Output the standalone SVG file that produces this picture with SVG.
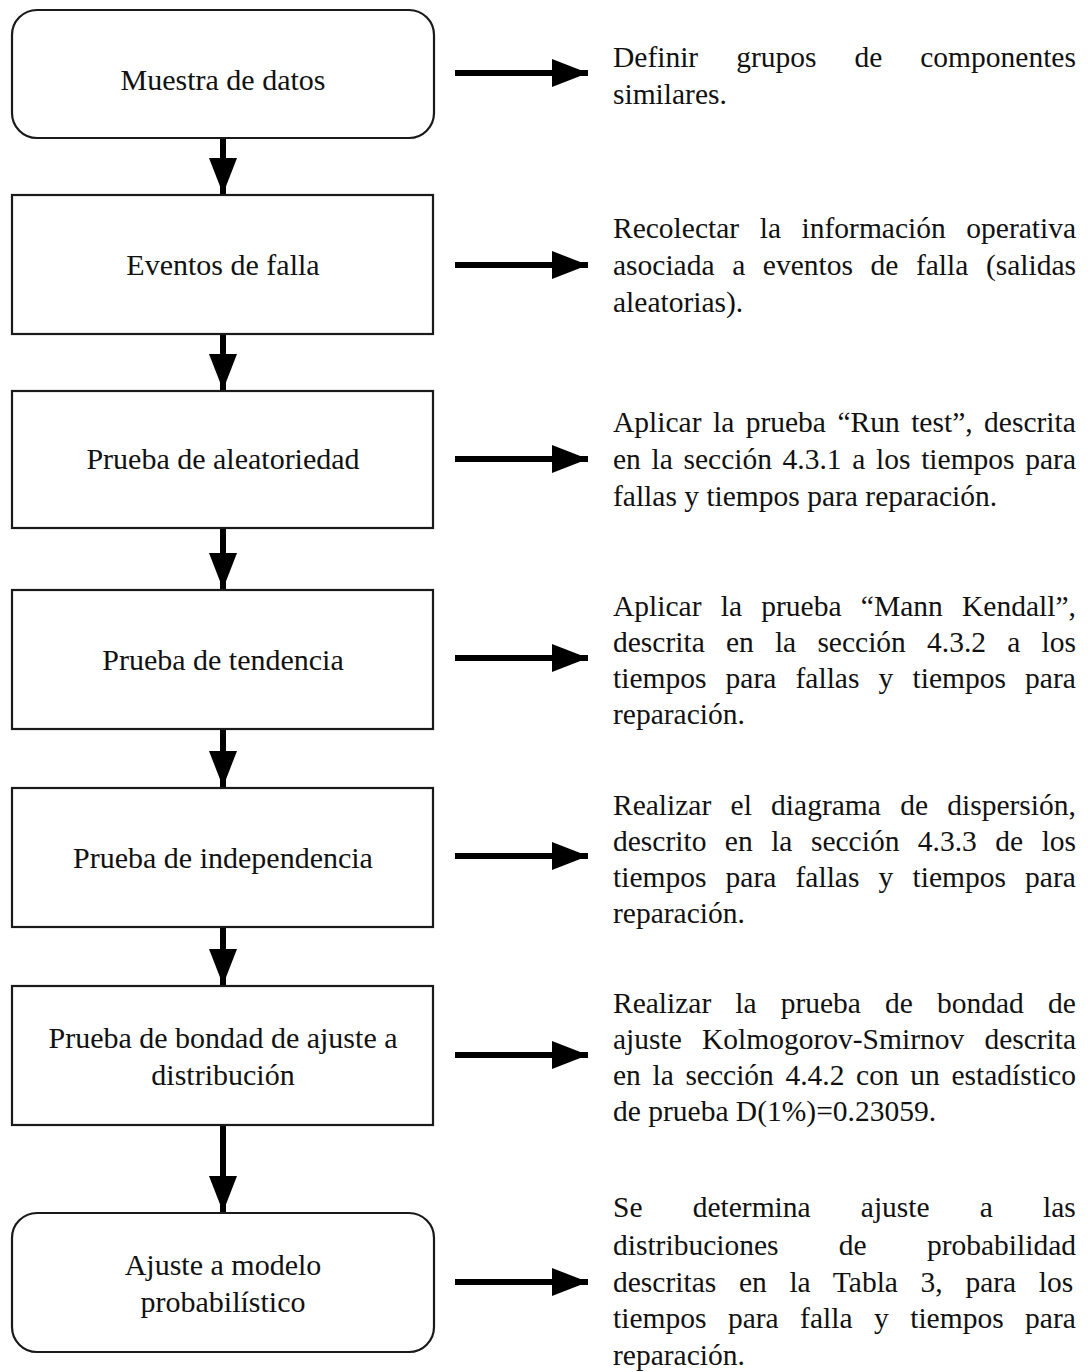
<svg xmlns="http://www.w3.org/2000/svg" width="1088" height="1372" viewBox="0 0 1088 1372">
<defs>
<style>
.box{fill:#fff;stroke:#1a1a1a;stroke-width:2.2}
.lbl{font-family:"Liberation Serif","Times New Roman",serif;font-size:30px;fill:#111;text-anchor:middle}
.txt{font-family:"Liberation Serif","Times New Roman",serif;font-size:29.5px;fill:#111}
.conn{stroke:#000;stroke-width:6;fill:none}
</style>
<marker id="ah" markerUnits="userSpaceOnUse" markerWidth="38" markerHeight="30" refX="36" refY="15" orient="auto">
<path d="M0,1 L36,15 L0,29 Z" fill="#000"/>
</marker>
</defs>
<rect width="1088" height="1372" fill="#fff"/>

<g id="connectors">
<line class="conn" x1="223" y1="139" x2="223" y2="194" marker-end="url(#ah)"/>
<line class="conn" x1="223" y1="335" x2="223" y2="390" marker-end="url(#ah)"/>
<line class="conn" x1="223" y1="529" x2="223" y2="589" marker-end="url(#ah)"/>
<line class="conn" x1="223" y1="730" x2="223" y2="787" marker-end="url(#ah)"/>
<line class="conn" x1="223" y1="928" x2="223" y2="985" marker-end="url(#ah)"/>
<line class="conn" x1="223" y1="1126" x2="223" y2="1212" marker-end="url(#ah)"/>
<line class="conn" x1="455" y1="73" x2="588" y2="73" marker-end="url(#ah)"/>
<line class="conn" x1="455" y1="265" x2="588" y2="265" marker-end="url(#ah)"/>
<line class="conn" x1="455" y1="459" x2="588" y2="459" marker-end="url(#ah)"/>
<line class="conn" x1="455" y1="658" x2="588" y2="658" marker-end="url(#ah)"/>
<line class="conn" x1="455" y1="856" x2="588" y2="856" marker-end="url(#ah)"/>
<line class="conn" x1="455" y1="1055" x2="588" y2="1055" marker-end="url(#ah)"/>
<line class="conn" x1="455" y1="1282" x2="588" y2="1282" marker-end="url(#ah)"/>
</g>

<g id="node-muestra">
<rect class="box" x="12" y="10" width="422" height="128" rx="25" ry="25"/>
<text class="lbl" x="223" y="90">Muestra de datos</text>
</g>
<g id="node-eventos">
<rect class="box" x="12" y="195" width="421" height="139"/>
<text class="lbl" x="223" y="275">Eventos de falla</text>
</g>
<g id="node-aleatoriedad">
<rect class="box" x="12" y="391" width="421" height="137"/>
<text class="lbl" x="223" y="469">Prueba de aleatoriedad</text>
</g>
<g id="node-tendencia">
<rect class="box" x="12" y="590" width="421" height="139"/>
<text class="lbl" x="223" y="670">Prueba de tendencia</text>
</g>
<g id="node-independencia">
<rect class="box" x="12" y="788" width="421" height="139"/>
<text class="lbl" x="223" y="868">Prueba de independencia</text>
</g>
<g id="node-bondad">
<rect class="box" x="12" y="986" width="421" height="139"/>
<text class="lbl" x="223" y="1048">Prueba de bondad de ajuste a</text>
<text class="lbl" x="223" y="1085">distribución</text>
</g>
<g id="node-ajuste">
<rect class="box" x="12" y="1213" width="422" height="139" rx="25" ry="25"/>
<text class="lbl" x="223" y="1275">Ajuste a modelo</text>
<text class="lbl" x="223" y="1312">probabilístico</text>
</g>

<g id="desc-muestra">
<text class="txt" x="613" y="67" word-spacing="30.6">Definir grupos de componentes</text>
<text class="txt" x="613" y="104">similares.</text>
</g>
<g id="desc-eventos">
<text class="txt" x="613" y="238" word-spacing="13.2">Recolectar la información operativa</text>
<text class="txt" x="613" y="275" word-spacing="10.2">asociada a eventos de falla (salidas</text>
<text class="txt" x="613" y="312">aleatorias).</text>
</g>
<g id="desc-aleatoriedad">
<text class="txt" x="613" y="432" word-spacing="4.1">Aplicar la prueba “Run test”, descrita</text>
<text class="txt" x="613" y="469" word-spacing="3.3">en la sección 4.3.1 a los tiempos para</text>
<text class="txt" x="613" y="506">fallas y tiempos para reparación.</text>
</g>
<g id="desc-tendencia">
<text class="txt" x="613" y="616" word-spacing="11.9">Aplicar la prueba “Mann Kendall”,</text>
<text class="txt" x="613" y="652" word-spacing="13.8">descrita en la sección 4.3.2 a los</text>
<text class="txt" x="613" y="688" word-spacing="11.8">tiempos para fallas y tiempos para</text>
<text class="txt" x="613" y="724">reparación.</text>
</g>
<g id="desc-independencia">
<text class="txt" x="613" y="815" word-spacing="11.9">Realizar el diagrama de dispersión,</text>
<text class="txt" x="613" y="851" word-spacing="11.1">descrito en la sección 4.3.3 de los</text>
<text class="txt" x="613" y="887" word-spacing="11.8">tiempos para fallas y tiempos para</text>
<text class="txt" x="613" y="923">reparación.</text>
</g>
<g id="desc-bondad">
<text class="txt" x="613" y="1013" word-spacing="16.7">Realizar la prueba de bondad de</text>
<text class="txt" x="613" y="1049" word-spacing="12.8">ajuste Kolmogorov-Smirnov descrita</text>
<text class="txt" x="613" y="1085" word-spacing="4.25">en la sección 4.4.2 con un estadístico</text>
<text class="txt" x="613" y="1121">de prueba D(1%)=0.23059.</text>
</g>
<g id="desc-ajuste">
<text class="txt" x="613" y="1217" word-spacing="42.8">Se determina ajuste a las</text>
<text class="txt" x="613" y="1255" word-spacing="52.9">distribuciones de probabilidad</text>
<text class="txt" x="613" y="1292" word-spacing="15.3">descritas en la Tabla 3, para los</text>
<text class="txt" x="613" y="1328" word-spacing="14.1">tiempos para falla y tiempos para</text>
<text class="txt" x="613" y="1365">reparación.</text>
</g>
</svg>
